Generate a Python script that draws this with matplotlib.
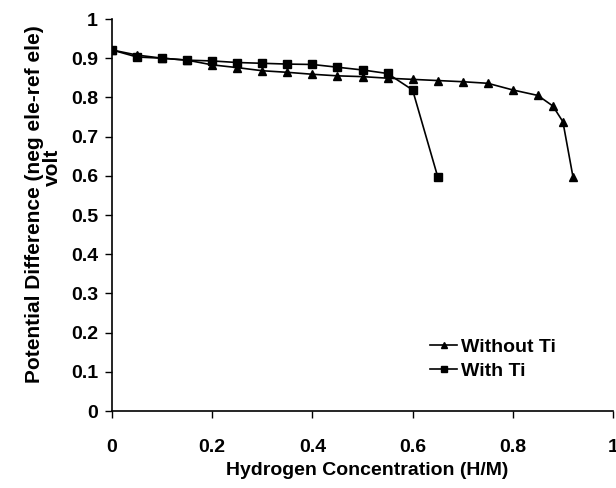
import numpy as np
import matplotlib.pyplot as plt

plt.rcParams['font.family'] = ['Liberation Sans', 'DejaVu Sans']
plt.rcParams['font.weight'] = 'bold'

# Without Ti (triangles)
x_without = [0, 0.05, 0.1, 0.15, 0.2, 0.25, 0.3, 0.35, 0.4, 0.45, 0.5, 0.55,
             0.6, 0.65, 0.7, 0.75, 0.8, 0.85, 0.88, 0.9, 0.92]
y_without = [0.921, 0.908, 0.900, 0.895, 0.883, 0.876, 0.868, 0.864, 0.859, 0.855,
             0.853, 0.849, 0.846, 0.843, 0.840, 0.836, 0.819, 0.805, 0.778, 0.738, 0.598]

# With Ti (squares)
x_with = [0, 0.05, 0.1, 0.15, 0.2, 0.25, 0.3, 0.35, 0.4, 0.45, 0.5, 0.55, 0.6, 0.65]
y_with = [0.921, 0.903, 0.900, 0.895, 0.893, 0.889, 0.887, 0.885, 0.884, 0.877,
          0.870, 0.861, 0.819, 0.598]

fig = plt.figure(figsize=(6.16, 4.88), dpi=100)
ax = fig.add_axes([112/616, 1 - 411/488, 501/616, 392/488])

ax.plot(x_without, y_without, color='black', lw=1.2, marker='^', ms=6, label='Without Ti')
ax.plot(x_with, y_with, color='black', lw=1.2, marker='s', ms=5.5, label='With Ti')

ax.set_xlim(0, 1)
ax.set_ylim(0, 1)
ax.set_xticks(np.arange(0, 1.01, 0.2))
ax.set_xticklabels(['0', '0.2', '0.4', '0.6', '0.8', '1'])
ax.set_yticks(np.arange(0, 1.01, 0.1))
ax.set_yticklabels(['0'] + [f'{v:.1f}' for v in np.arange(0.1, 0.95, 0.1)] + ['1'])
ax.tick_params(labelsize=14, direction='out', length=5, width=1)
ax.tick_params(axis='x', pad=15)
ax.tick_params(axis='y', pad=5)

for s in ['top', 'right']:
    ax.spines[s].set_visible(False)
for s in ['left', 'bottom']:
    ax.spines[s].set_linewidth(1.2)

ax.set_xlabel('Hydrogen Concentration (H/M)', fontsize=14, fontweight='bold')
ax.xaxis.set_label_coords(0.509, -0.130)

# y title: first line plus "volt" sitting a bit higher, as in the source
ax.set_ylabel('Potential Difference (neg ele-ref ele)', fontsize=15, fontweight='bold')
ax.yaxis.set_label_coords(-0.136, 0.528)
ax.text(-0.119, 0.622, 'volt', transform=ax.transAxes, rotation=90,
        ha='center', va='center', fontsize=15, fontweight='bold')

ax.legend(loc='upper left', bbox_to_anchor=(430/616, 1 - 338/488),
          bbox_transform=fig.transFigure, frameon=False, borderpad=0,
          borderaxespad=0, fontsize=14, handlelength=1.4, handletextpad=0.2,
          labelspacing=0.35, markerscale=0.7)

fig.savefig('out.png', dpi=100)
